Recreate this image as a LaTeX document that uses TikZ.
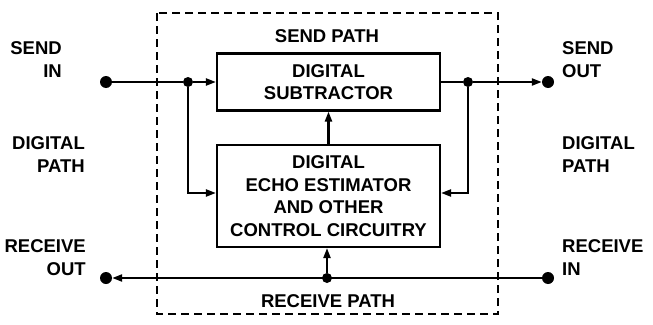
\documentclass[tikz,border=0pt]{standalone}
\usepackage{fontspec}
\setmainfont{Liberation Sans}
\usetikzlibrary{arrows.meta}
\begin{document}
\begin{tikzpicture}[x=1pt,y=-1pt,
  every node/.style={font=\fontsize{18.5}{22.5}\selectfont\bfseries},
  blockbox/.style={draw,line width=2.1pt,minimum width=223pt,inner sep=0pt,align=center},
  wire/.style={line width=2.1pt},
  arr/.style={wire,-{Triangle[length=10pt,width=7pt]}},
  enddot/.style={circle,fill,inner sep=0pt,minimum size=12pt},
  jdot/.style={circle,fill,inner sep=0pt,minimum size=10pt},
  lbl/.style={inner sep=0pt},
  frame/.style={line width=2.1pt,dash pattern=on 8pt off 5pt}]
\useasboundingbox (0,0) rectangle (653,324);
% dashed enclosure
\draw[frame] (157,13) rectangle (498,314);
% blocks
\node[blockbox,minimum height=57pt] (sub) at (328.5,82) {DIGITAL\\SUBTRACTOR};
\node[blockbox,minimum height=102pt] (est) at (328.5,196) {DIGITAL\\ECHO ESTIMATOR\\AND OTHER\\CONTROL CIRCUITRY};
% terminals
\node[enddot] (sendin) at (106,82) {};
\node[enddot] (sendout) at (548,82) {};
\node[enddot] (recvout) at (106,278) {};
\node[enddot] (recvin) at (548,278) {};
% junctions
\node[jdot] (jl) at (188,82) {};
\node[jdot] (jr) at (468,82) {};
\node[jdot] (jrx) at (327,278) {};
% send path
\draw[wire] (sendin) -- (jl);
\draw[arr] (jl) -- (sub.west);
\draw[wire] (sub.east) -- (jr);
\draw[arr] (jr) -- (sendout);
\draw[arr] (jl) |- ([yshift=3pt]est.west);
\draw[arr] (jr) |- ([yshift=3pt]est.east);
\draw[arr] (est.north) -- (sub.south);
% receive path
\draw[arr] (recvin) -- (recvout);
\draw[arr] (jrx) -- (jrx |- est.south);
% labels
\node[lbl,anchor=base] (sp) at (327,42) {SEND PATH};
\node[lbl,anchor=base] (rp) at (328,307) {RECEIVE PATH};
\node[lbl,anchor=base east,align=right] (lsi) at (62,77) {SEND\\IN};
\node[lbl,anchor=base east,align=right] (ldp) at (85,172) {DIGITAL\\PATH};
\node[lbl,anchor=base east,align=right] (lro) at (86,275) {RECEIVE\\OUT};
\node[lbl,anchor=base west,align=left] (rso) at (562,77) {SEND\\OUT};
\node[lbl,anchor=base west,align=left] (rdp) at (562,172) {DIGITAL\\PATH};
\node[lbl,anchor=base west,align=left] (rri) at (562,275) {RECEIVE\\IN};
\end{tikzpicture}
\end{document}
